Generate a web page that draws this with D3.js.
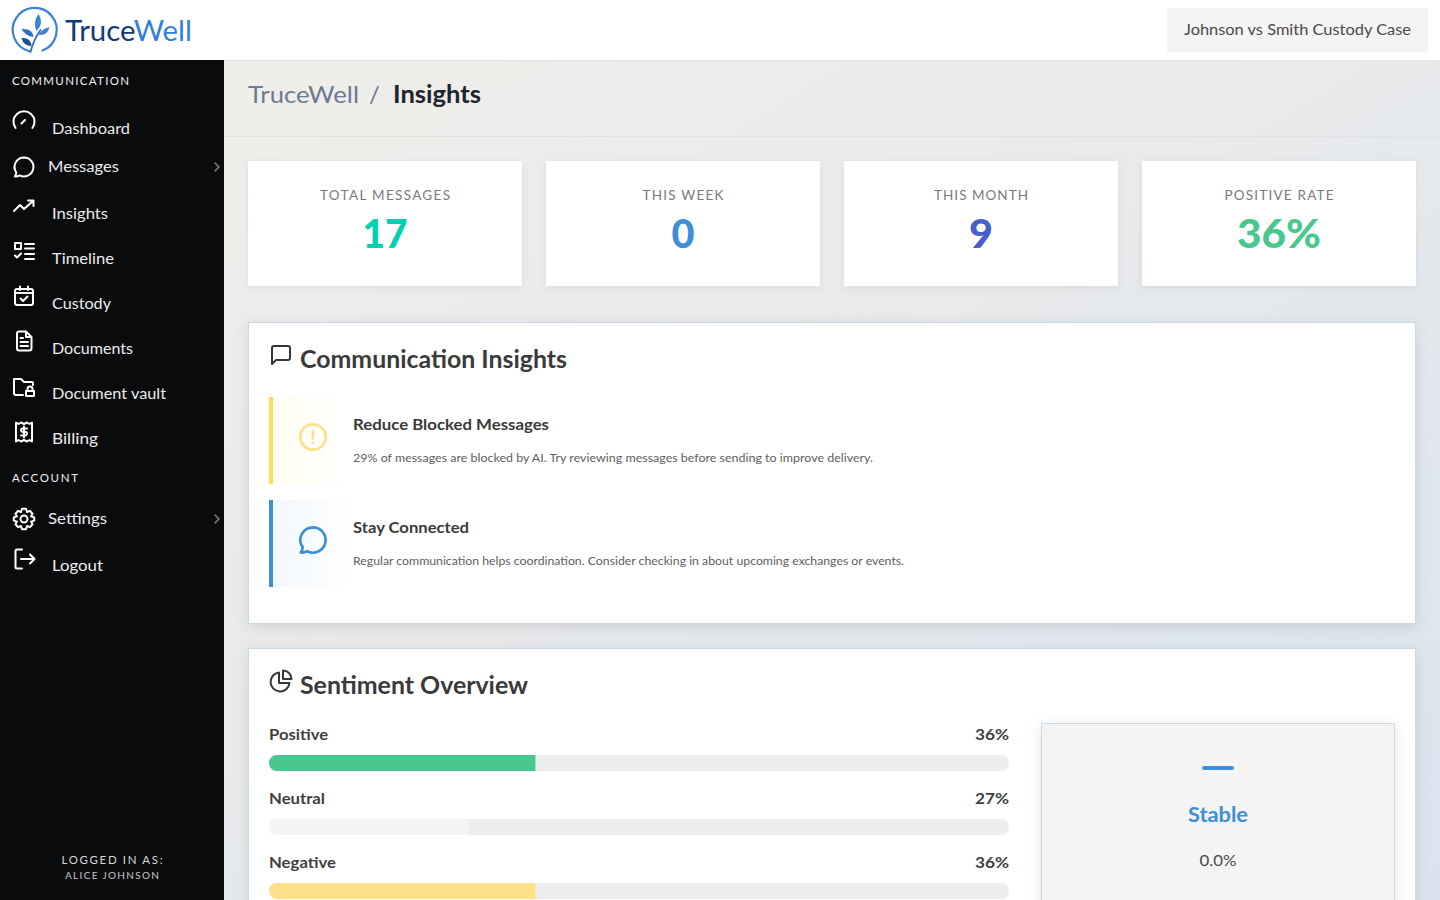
<!DOCTYPE html>
<html>
<head>
<meta charset="utf-8">
<title>TruceWell Insights</title>
<script src="https://cdn.jsdelivr.net/npm/d3@7"></script>
<style>
    html, body { margin: 0; padding: 0; overflow: hidden; background: #fff; }
    svg { display: block; font-family: Lato, "Noto Sans", sans-serif; }
    .icon { fill: none; stroke-linecap: round; stroke-linejoin: round; }
</style>
</head>
<body>
<svg id="page" width="1440" height="900"></svg>
<script>
// Stat cards
const statLabels = ["TOTAL MESSAGES", "THIS WEEK", "THIS MONTH", "POSITIVE RATE"];
const statValues = ["17", "0", "9", "36%"];

// Sentiment bars
const sentimentLabels = ["Positive", "Neutral", "Negative"];
const sentimentValues = [36, 27, 36];

// Sidebar
const navLabels = ["Dashboard", "Messages", "Insights", "Timeline", "Custody", "Documents", "Document vault", "Billing", "Settings", "Logout"];

// Insight rows
const insightTitles = ["Reduce Blocked Messages", "Stay Connected"];
const insightTexts = [
    "29% of messages are blocked by AI. Try reviewing messages before sending to improve delivery.",
    "Regular communication helps coordination. Consider checking in about upcoming exchanges or events."
];

const svg = d3.select("#page");
const defs = svg.append("defs");

function gradient(id, x2, y2, stops) {
    const g = defs.append("linearGradient").attr("id", id)
        .attr("x1", 0).attr("y1", 0).attr("x2", x2).attr("y2", y2);
    stops.forEach(s => g.append("stop").attr("offset", s[0]).attr("stop-color", s[1]));
}
gradient("bg", 1, 1, [[0.12, "#efeeea"], [0.45, "#e9eaea"], [1, "#d9e4ef"]]);
gradient("tintYellow", 1, 0, [[0, "#fffcf2"], [1, "#ffffff"]]);
gradient("tintBlue", 1, 0, [[0, "#f2f8fd"], [1, "#ffffff"]]);

function shadow(id, dy, blur, opacity) {
    const f = defs.append("filter").attr("id", id)
        .attr("x", "-10%").attr("y", "-20%").attr("width", "120%").attr("height", "140%");
    f.append("feDropShadow").attr("dx", 0).attr("dy", dy)
        .attr("stdDeviation", blur).attr("flood-color", "#000").attr("flood-opacity", opacity);
}
shadow("cardShadow", 2, 3, 0.07);
shadow("panelShadow", 3, 7, 0.1);

// Text helper: width forces the run to the width measured in the reference
function label(parent, str, x, y, size, color, opts = {}) {
    const t = parent.append("text")
        .attr("x", x).attr("y", y)
        .attr("font-size", size)
        .attr("fill", color)
        .attr("font-weight", opts.weight || 400)
        .attr("text-anchor", opts.anchor || "start")
        .text(str);
    if (opts.width) t.attr("textLength", opts.width).attr("lengthAdjust", opts.adjust || "spacingAndGlyphs");
    return t;
}

// Line icons, 24x24 box
const iconPaths = {
    gauge: "M3.6 18 A10.5 10.5 0 1 1 20.4 18 M9.5 13.5 L13 10",
    chat: "M12 2.5 A9.5 9.5 0 1 1 7.5 20.4 C6 21.4 4 21.6 2.8 21.4 C3.6 20.4 4.2 18.8 4.3 17.5 A9.5 9.5 0 0 1 12 2.5 Z",
    trend: "M2 16 L8 10 L12 14 L21 6 M16 5.5 L21.5 5.5 L21.5 11",
    list: "M3 3 H9 V9 H3 Z M13 4 H22 M13 8.5 H22 M3 15.5 L5 17.5 L9 13.5 M13 14 H22 M13 19 H22",
    calendar: "M5 5 H19 Q21 5 21 7 V19 Q21 21 19 21 H5 Q3 21 3 19 V7 Q3 5 5 5 Z M8 2.5 V6 M16 2.5 V6 M3 9 H21 M8.5 14.5 L11 17 L15.5 12.5",
    doc: "M7 2.5 H14 L19.5 8 V19.5 Q19.5 21.5 17.5 21.5 H7 Q5 21.5 5 19.5 V4.5 Q5 2.5 7 2.5 Z M14 2.5 V8 H19.5 M8.5 9 H11 M8.5 13 H16 M8.5 17 H16",
    vault: "M11 20 H4 Q2 20 2 18 V4 H9 L12 7 H20 Q21 7 21 9 V10 M14 16 H22 V21 H14 Z M15.5 16 V14 A2.5 2.5 0 0 1 20.5 14 V16",
    bill: "M4 2.5 L6.5 4 L9 2.5 L12 4 L15 2.5 L17.5 4 L20 2.5 V21.5 L17.5 20 L15 21.5 L12 20 L9 21.5 L6.5 20 L4 21.5 Z M15 8.5 H10.5 Q9 8.5 9 10 T10.5 12 H13.5 Q15 12 15 13.5 T13.5 15.5 H9 M12 6.5 V17.5",
    gear: "M10 1.8 H14 L15 5 L17.8 3.8 L20.6 6.8 L19 9.4 L22.2 10.4 V13.6 L19 14.6 L20.6 17.2 L17.8 20.2 L15 19 L14 22.2 H10 L9 19 L6.2 20.2 L3.4 17.2 L5 14.6 L1.8 13.6 V10.4 L5 9.4 L3.4 6.8 L6.2 3.8 L9 5 Z M12 8.5 A3.5 3.5 0 1 0 12 15.5 A3.5 3.5 0 1 0 12 8.5 Z",
    logout: "M10 2.5 H5 Q3.5 2.5 3.5 4 V20 Q3.5 21.5 5 21.5 H10 M9 12 H22 M18 7.5 L22.5 12 L18 16.5",
    message: "M5 3 H19 Q21 3 21 5 V15 Q21 17 19 17 H7 L3 21 V5 Q3 3 5 3 Z",
    pie: "M10 3.5 A9.5 9.5 0 1 0 20.5 14 H10 Z M14 1.5 A8.5 8.5 0 0 1 22.5 10 H14 Z",
    alert: "M12 2.5 A9.5 9.5 0 1 1 12 21.5 A9.5 9.5 0 1 1 12 2.5 Z M12 7.5 V13 M12 16.4 V16.6"
};

function icon(parent, name, x, y, size, color, width) {
    return parent.append("path").attr("class", "icon")
        .attr("transform", `translate(${x},${y}) scale(${size / 24})`)
        .attr("d", iconPaths[name])
        .attr("stroke", color)
        .attr("stroke-width", width * 24 / size);
}

// Page background
svg.append("rect").attr("width", 1440).attr("height", 900).attr("fill", "url(#bg)");

// Top bar
svg.append("rect").attr("width", 1440).attr("height", 60).attr("fill", "#fff");
svg.append("line").attr("x1", 224).attr("x2", 1440).attr("y1", 60.5).attr("y2", 60.5).attr("stroke", "#e2e3e3");

const logo = svg.append("g").attr("transform", "translate(0.5,0)");
logo.append("path").attr("class", "icon")
    .attr("d", "M42 50.5 A22 22 0 1 0 29 51.3")
    .attr("stroke", "#3b82d6").attr("stroke-width", 2.2);
logo.append("path").attr("class", "icon").attr("d", "M30 52 Q33 40 40 30")
    .attr("stroke", "#2a6fc4").attr("stroke-width", 1.8);
[
    ["M36 31 Q32 22 38 14 Q44 23 36 31 Z", "#3b82d6"],
    ["M38 35 Q41 29 49 27 Q47 36 38 35 Z", "#3b82d6"],
    ["M33 37 Q25 36 21 29 Q32 28 33 37 Z", "#2a6fc4"],
    ["M31 46 Q23 46 21 38 Q30 37 31 46 Z", "#1d4f94"]
].forEach(d => logo.append("path").attr("d", d[0]).attr("fill", d[1]));
const logoText = label(svg, "", 65, 41, 28, "#123a78", { width: 127 });
logoText.append("tspan").text("Truce");
logoText.append("tspan").attr("fill", "#2f7fe0").text("Well");

svg.append("rect").attr("x", 1167).attr("y", 8).attr("width", 261).attr("height", 44).attr("fill", "#f4f4f4");
label(svg, "Johnson vs Smith Custody Case", 1297.5, 35, 15.5, "#4a4a4a", { anchor: "middle", width: 227 });

// Sidebar
const side = svg.append("g");
side.append("rect").attr("y", 60).attr("width", 224).attr("height", 840).attr("fill", "#0a0b0d");
label(side, "COMMUNICATION", 12, 85, 11.5, "#f0f0f0", { width: 117, adjust: "spacing" });
label(side, "ACCOUNT", 12, 482, 11.5, "#f0f0f0", { width: 66, adjust: "spacing" });

const navY = [134, 172, 219, 264, 309, 354, 399, 444, 524, 571];
const navX = [52, 48, 52, 52, 52, 52, 52, 52, 48, 52];
const navWidth = [78, 71, 56, 62, 59, 81, 114, 46, 59, 51];
const navIcons = ["gauge", "chat", "trend", "list", "calendar", "doc", "vault", "bill", "gear", "logout"];
const navIconY = [110, 155, 195, 240, 284, 329, 375, 420, 507, 547];
navLabels.forEach((d, i) => {
    label(side, d, navX[i], navY[i], 15.5, "#ececec", { width: navWidth[i] });
    icon(side, navIcons[i], 12, navIconY[i], 24, "#fff", 2);
});
[167, 519].forEach(y => side.append("path").attr("class", "icon")
    .attr("d", `M215 ${y - 4} L219 ${y} L215 ${y + 4}`).attr("stroke", "#8b8b8b").attr("stroke-width", 1.2));
label(side, "LOGGED IN AS:", 112, 864, 11.5, "#d8d8d8", { anchor: "middle", width: 101, adjust: "spacing" });
label(side, "ALICE JOHNSON", 112, 879, 10, "#c8c8c8", { anchor: "middle", width: 94, adjust: "spacing" });

// Breadcrumb
label(svg, "TruceWell", 248, 103, 24, "#6c7a93", { width: 111 });
label(svg, "/", 369, 103, 24, "#6c7a93");
label(svg, "Insights", 393, 103, 24, "#20242c", { weight: 700, width: 88 });
svg.append("line").attr("x1", 224).attr("x2", 1440).attr("y1", 136.5).attr("y2", 136.5).attr("stroke", "#e0e2e3");

// Stat cards
const cardX = d3.scaleBand().domain(d3.range(statLabels.length)).range([248, 1416]).paddingInner(24 / 298).paddingOuter(0);
const statColors = ["#00d1b2", "#3e8ed8", "#4560c8", "#48c78e"];
const statWidth = [130, 81, 94, 109];
const statValueWidth = [45, 23, 24, 84];
statLabels.forEach((d, i) => {
    const x = cardX(i), w = cardX.bandwidth();
    svg.append("rect").attr("x", x).attr("y", 161).attr("width", w).attr("height", 125)
        .attr("fill", "#fff").attr("filter", "url(#cardShadow)");
    label(svg, d, x + w / 2, 200, 13.5, "#7a7a7a", { anchor: "middle", width: statWidth[i], adjust: "spacing" });
    label(svg, statValues[i], x + w / 2, 247.5, 40, statColors[i], { anchor: "middle", weight: 900, width: statValueWidth[i] });
});

function panel(y, h) {
    svg.append("rect").attr("x", 248.5).attr("y", y + 0.5).attr("width", 1167).attr("height", h)
        .attr("fill", "#fff").attr("stroke", "#c9d8ea").attr("filter", "url(#panelShadow)");
}

// Communication Insights
panel(322, 301);
icon(svg, "message", 269, 343, 24, "#363636", 2);
label(svg, "Communication Insights", 300, 368, 24, "#3a3a3a", { weight: 700, width: 267 });

const insightColors = ["#ffdd57", "#3e8ed8"];
const insightFills = ["url(#tintYellow)", "url(#tintBlue)"];
const insightIcons = ["alert", "chat"];
const iconColors = ["#ffe08a", "#3e8ed8"];
const titleWidth = [196, 116];
const textWidth = [520, 551];
insightTitles.forEach((d, i) => {
    const y = 397 + i * 103;
    svg.append("rect").attr("x", 273).attr("y", y).attr("width", 82).attr("height", 87).attr("fill", insightFills[i]);
    svg.append("rect").attr("x", 269).attr("y", y).attr("width", 4).attr("height", 87).attr("fill", insightColors[i]);
    icon(svg, insightIcons[i], 297, y + 24, 32, iconColors[i], 2.7);
    label(svg, d, 353, y + 33, 15.5, "#3a3a3a", { weight: 700, width: titleWidth[i] });
    label(svg, insightTexts[i], 353, y + 65, 12, "#606060", { width: textWidth[i] });
});

// Sentiment Overview
panel(648, 300);
icon(svg, "pie", 269, 669, 24, "#363636", 2);
label(svg, "Sentiment Overview", 300, 694, 24, "#3a3a3a", { weight: 700, width: 228 });

const barX = d3.scaleLinear().domain([0, 100]).range([0, 740]);
const barColors = ["#48c78e", "#f5f5f5", "#ffe08a"];
const labelWidth = [59, 56, 67];
const clip = defs.append("clipPath").attr("id", "barClip");
sentimentLabels.forEach((d, i) => {
    const y = 755 + i * 64;
    clip.append("rect").attr("x", 269).attr("y", y).attr("width", barX(100)).attr("height", 16).attr("rx", 8);
    label(svg, d, 269, y - 15, 15.5, "#3f3f3f", { weight: 700, width: labelWidth[i] });
    label(svg, sentimentValues[i] + "%", 1009, y - 15, 15.5, "#3f3f3f", { weight: 700, anchor: "end", width: 34 });
});
const bars = svg.append("g").attr("clip-path", "url(#barClip)");
sentimentValues.forEach((v, i) => {
    const y = 755 + i * 64;
    bars.append("rect").attr("x", 269).attr("y", y).attr("width", barX(100)).attr("height", 16).attr("fill", "#ededed");
    bars.append("rect").attr("x", 269).attr("y", y).attr("width", barX(v)).attr("height", 16).attr("fill", barColors[i]);
});

// Trend box
svg.append("rect").attr("x", 1041.5).attr("y", 723.5).attr("width", 353).attr("height", 220)
    .attr("fill", "#f4f4f5").attr("stroke", "#c9d8ea").attr("filter", "url(#panelShadow)");
svg.append("rect").attr("x", 1202).attr("y", 766).attr("width", 32).attr("height", 4).attr("rx", 2).attr("fill", "#3e8ed8");
label(svg, "Stable", 1218, 822, 20, "#3e8ed8", { anchor: "middle", weight: 700, width: 60 });
label(svg, "0.0%", 1218, 866, 16, "#4a4a4a", { anchor: "middle", width: 37 });
</script>
</body>
</html>
